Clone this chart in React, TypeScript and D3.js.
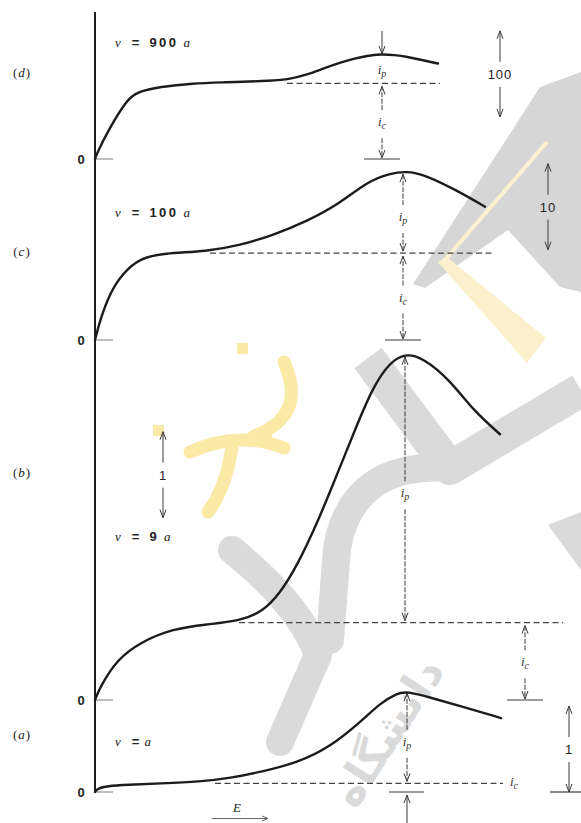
import React from "react";
import * as d3 from "d3";

const width = 581;
const height = 823;

// potential E (arbitrary units) and current for each sweep rate
const potentialA = [0, 0.6, 3, 8, 16.25, 26.25, 33.75, 42, 50.5, 58.75, 67, 71.25, 75.5, 78, 83.75, 92, 101.5];
const currentA = [0, 0.04, 0.07, 0.085, 0.1, 0.12, 0.16, 0.24, 0.34, 0.52, 0.84, 1.03, 1.15, 1.17, 1.1, 0.99, 0.86];

const potentialB = [0, 1.25, 5.5, 11.25, 19.5, 28, 36.25, 42, 46.25, 50.5, 55.5, 60.5, 65.5, 69.5, 73.75, 77.5, 82, 88.75, 94.5, 101.25];
const currentB = [0, 0.15, 0.47, 0.67, 0.83, 0.88, 0.92, 1.03, 1.24, 1.56, 2.05, 2.62, 3.2, 3.64, 3.93, 4.03, 3.98, 3.72, 3.37, 3.09];

const potentialC = [0, 1.25, 3.75, 7, 11.25, 17, 28, 36.25, 44.5, 53, 61.25, 68, 73.75, 78, 82, 90.5, 97.5];
const currentC = [0, 2.3, 5.5, 7.8, 9.5, 10.1, 10.3, 11.0, 12.2, 13.8, 15.9, 18.4, 19.4, 19.6, 19.3, 17.4, 15.5];

const potentialD = [0, 0.5, 3.75, 8, 10.5, 16.25, 24.5, 32, 44.5, 48.75, 53, 57, 61.25, 65, 68, 71.25, 75, 78, 81.75, 85.75];
const currentD = [0, 7, 37, 69, 78, 84, 88, 89, 91, 93, 98, 105, 112, 117, 120, 122, 121, 119, 115, 111];

const panelLetters = ["a", "b", "c", "d"];
const sweepRates = ["", "9", "100", "900"];
const scaleBarValues = [1, 1, 10, 100];
const chargingCurrents = [0.1, 0.9, 10.1, 88];
const peakCurrents = [1.16, 4.0, 19.4, 121];

const potentials = [potentialA, potentialB, potentialC, potentialD];
const currents = [currentA, currentB, currentC, currentD];

// where each panel sits on the page
const layout = [
  { zero: 792, dash: [30, 102], ipE: 78, icE: 78, ipMode: "inside", icMode: "below", barE: 118.5, barFrom: 0, rateY: 746, nameY: 739 },
  { zero: 700, dash: [36, 117], ipE: 77.5, icE: 107.5, ipMode: "inside", icMode: "inside", barE: 17, barFrom: 2.12, rateY: 541, nameY: 477 },
  { zero: 340, dash: [28.75, 99.5], ipE: 77, icE: 77, ipMode: "inside", icMode: "inside", barE: 113.25, barFrom: 10.5, rateY: 217, nameY: 256 },
  { zero: 159, dash: [48, 86.25], ipE: 71.75, icE: 71.75, ipMode: "outside", icMode: "inside", barE: 101.25, barFrom: 49, rateY: 47, nameY: 77 },
];

const unitPx = 86;
const ink = "#1c1c1c";
const thin = "#3a3a3a";
const serif = "'Liberation Serif', 'DejaVu Serif', serif";
const sans = "'Liberation Sans', Arial, sans-serif";

const x = d3.scaleLinear().domain([0, 120]).range([95, 575]);

function Arrow({ x0, from, to, dash }: { x0: number; from: number; to: number; dash?: string }) {
  const s = Math.sign(to - from);
  return (
    <g stroke={thin} fill="none" strokeWidth={1}>
      <line x1={x0} y1={from} x2={x0} y2={to} strokeDasharray={dash} />
      <path d={`M${x0 - 3},${to - s * 8} L${x0},${to} L${x0 + 3},${to - s * 8}`} />
    </g>
  );
}

function ISub({ x0, y0, sub }: { x0: number; y0: number; sub: string }) {
  return (
    <text x={x0} y={y0 + 3} textAnchor="middle" fontFamily={serif} fontStyle="italic" fontSize={13} fill="#333">
      i<tspan dy={3} fontSize={10}>{sub}</tspan>
    </text>
  );
}

// faint logo stamped over the scanned page
function Watermark() {
  const grey = "#dadada";
  const yellow = "#fbe9a6";
  return (
    <g>
      <path d="M413,284 L540,87 L581,72 L581,292 L560,287 L508,230 L425,288 Z" fill="#d6d6d6" />
      <path d="M438,262 L447,257 L546,338 L527,363 Z" fill="#fcf0cc" />
      <line x1={547} y1={142} x2={443} y2={262} stroke="#fcf2d2" strokeWidth={4} />
      <g fill="none" stroke={grey} strokeLinejoin="round" strokeLinecap="round">
        <path d="M368,358 L450,468 L581,390" strokeWidth={34} strokeLinecap="butt" />
        <path d="M450,468 Q352,462 337,548 L330,640" strokeWidth={28} />
        <path d="M232,550 Q300,605 318,655 L280,742" strokeWidth={28} />
      </g>
      <path d="M548,525 L581,512 L581,570 Z" fill={grey} />
      <text
        x={392}
        y={745}
        textAnchor="middle"
        fontFamily="'DejaVu Sans', sans-serif"
        fontWeight="bold"
        fontSize={44}
        fill={grey}
        transform="rotate(-57 392 735)"
      >
        دانشگاه
      </text>
      <g fill={yellow} stroke="none">
        <rect x={153} y={425} width={11} height={11} />
        <rect x={237} y={343} width={11} height={11} />
        <rect x={262} y={432} width={10} height={10} />
      </g>
      <g fill="none" stroke={yellow} strokeWidth={13} strokeLinecap="round">
        <path d="M284,362 Q308,416 254,436" />
        <path d="M190,452 Q238,430 284,448" />
        <path d="M232,447 Q226,488 208,512" />
      </g>
    </g>
  );
}

export default function App() {
  return (
    <svg
      width={width}
      height={height}
      viewBox={`0 0 ${width} ${height}`}
      style={{ display: "block", position: "absolute", left: 0, top: 0, background: "#fff" }}
    >
      <rect width={width} height={height} fill="#fff" />
      <Watermark />

      <line x1={95} y1={12} x2={95} y2={layout[0].zero} stroke={ink} strokeWidth={2} />

      {layout.map((p, k) => {
        const y = d3.scaleLinear().domain([0, scaleBarValues[k]]).range([p.zero, p.zero - unitPx]);
        const line = d3
          .line<number>()
          .x((_, j) => x(potentials[k][j]))
          .y((d) => y(d))
          .curve(d3.curveBasis);
        const yIc = y(chargingCurrents[k]);
        const yPk = y(peakCurrents[k]);
        const xp = x(p.ipE);
        const xc = x(p.icE);
        const xb = x(p.barE);
        const yb0 = y(p.barFrom);
        const yb1 = y(p.barFrom + scaleBarValues[k]);
        const bm = (yb0 + yb1) / 2;

        let ip: React.ReactNode;
        if (p.ipMode === "inside") {
          const c = (yPk + yIc) / 2 + 5;
          ip = (
            <g>
              <Arrow x0={xp} from={c - 13} to={yPk + 1} dash="5 1.5" />
              <ISub x0={xp} y0={c} sub="p" />
              <Arrow x0={xp} from={c + 15} to={yIc - 2} dash="5 1.5" />
            </g>
          );
        } else {
          const c = (yPk + yIc) / 2 + 2;
          ip = (
            <g>
              <Arrow x0={xp} from={yPk - 24} to={yPk - 1} />
              <ISub x0={xp} y0={c} sub="p" />
            </g>
          );
        }

        let ic: React.ReactNode;
        if (p.icMode === "inside") {
          const c = (yIc + p.zero) / 2 + 2;
          ic = (
            <g>
              <Arrow x0={xc} from={c - 13} to={yIc + 3} dash="5 1.5" />
              <ISub x0={xc} y0={c} sub="c" />
              <Arrow x0={xc} from={c + 15} to={p.zero - 1} dash="5 1.5" />
              <line x1={xc - 18} x2={xc + 18} y1={p.zero} y2={p.zero} stroke={thin} strokeWidth={1.2} />
            </g>
          );
        } else {
          ic = (
            <g>
              <ISub x0={x(p.dash[1]) + 11} y0={yIc} sub="c" />
              <line x1={xc - 18} x2={xc + 17} y1={p.zero} y2={p.zero} stroke={thin} strokeWidth={1.2} />
              <Arrow x0={xc} from={height} to={p.zero + 3} />
            </g>
          );
        }

        return (
          <g key={k}>
            <line x1={95} x2={113} y1={p.zero} y2={p.zero} stroke="#a8a8a8" strokeWidth={1.5} />
            <text x={81} y={p.zero + 4.5} textAnchor="middle" fontFamily={sans} fontSize={13} fontWeight="bold" fill="#222">
              0
            </text>
            <line
              x1={x(p.dash[0])}
              x2={x(p.dash[1])}
              y1={yIc}
              y2={yIc}
              stroke="#444"
              strokeWidth={1.2}
              strokeDasharray="6 3.5"
            />
            <path d={line(currents[k]) ?? ""} fill="none" stroke={ink} strokeWidth={2.4} strokeLinecap="round" />
            {ip}
            {ic}
            <Arrow x0={xb} from={bm - 12} to={yb1} />
            <Arrow x0={xb} from={bm + 13} to={yb0} />
            <text x={xb} y={bm + 5} textAnchor="middle" fontFamily={sans} fontSize={13} letterSpacing={1} fill="#222">
              {scaleBarValues[k]}
            </text>
            {p.icMode === "below" && (
              <line x1={xb - 19} x2={width} y1={yb0} y2={yb0} stroke={thin} strokeWidth={1.2} />
            )}
            <text x={115} y={p.rateY} fontSize={13} fill="#222">
              <tspan fontFamily={serif} fontStyle="italic">v</tspan>
              <tspan fontFamily={sans} fontWeight="bold" dx={11}>=</tspan>
              {sweepRates[k] && (
                <tspan fontFamily={sans} fontWeight="bold" dx={10} letterSpacing={2.5}>
                  {sweepRates[k]}
                </tspan>
              )}
              <tspan fontFamily={serif} fontStyle="italic" dx={5}>a</tspan>
            </text>
            <text x={22} y={p.nameY} textAnchor="middle" fontFamily={serif} fontSize={13} letterSpacing={1} fill="#222">
              (<tspan fontStyle="italic">{panelLetters[k]}</tspan>)
            </text>
          </g>
        );
      })}

      <text x={237} y={812} textAnchor="middle" fontFamily={serif} fontStyle="italic" fontSize={13} fill="#222">
        E
      </text>
      <g stroke="#555" strokeWidth={0.9} fill="none">
        <line x1={212} x2={268} y1={818.5} y2={818.5} />
        <path d="M262,816 L268,818.5 L262,821" />
      </g>
    </svg>
  );
}
